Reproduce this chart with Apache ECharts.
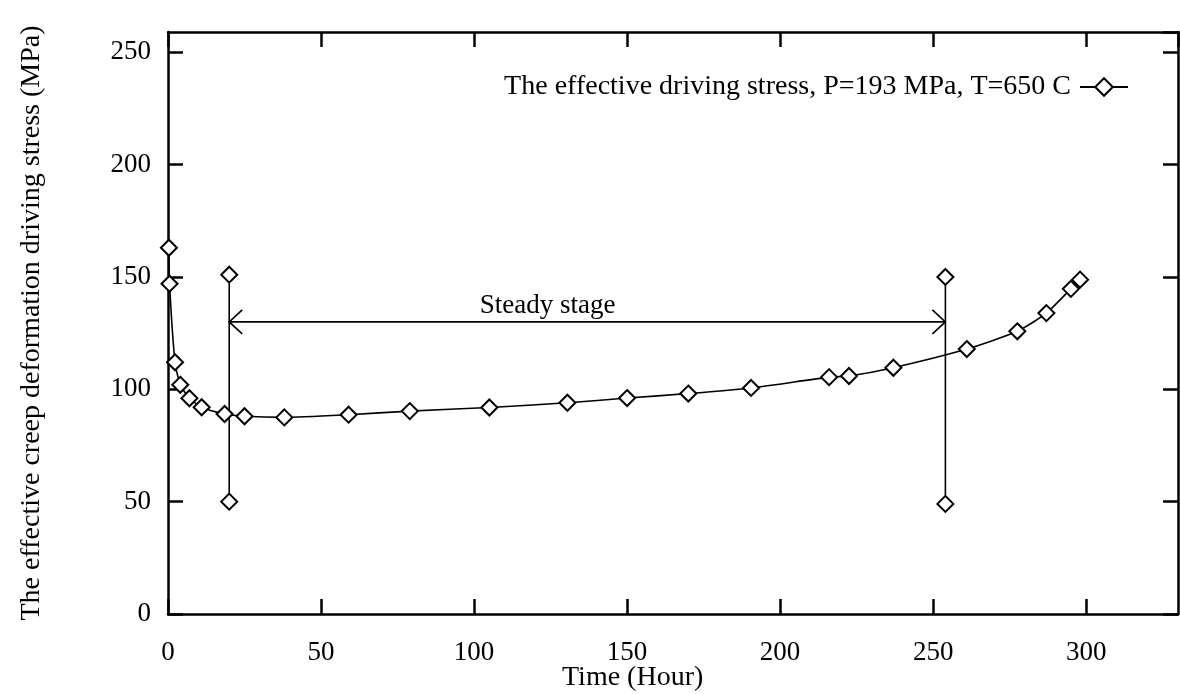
<!DOCTYPE html>
<html>
<head>
<meta charset="utf-8">
<script src="https://cdn.jsdelivr.net/npm/echarts@6/dist/echarts.min.js"></script>
<style>
html,body{margin:0;padding:0;background:#fff;}
#chart{width:1180px;height:694px;}
</style>
</head>
<body>
<div id="chart"></div>
<script>
// ---- data ----
var seriesName = 'The effective driving stress, P=193 MPa, T=650 C';
var timeHours = [0.3, 0.5, 2.3, 4, 7, 11, 18.5, 25, 38, 59, 79, 105, 130.5, 150, 170, 190.5, 216, 222.5, 237, 261, 277.5, 287, 295, 298];
var stressMPa = [163, 147, 112, 102, 96, 92, 89, 88, 87.5, 88.7, 90.3, 91.9, 94, 96.1, 98.1, 100.6, 105.4, 105.9, 109.6, 117.9, 125.8, 133.9, 144.7, 148.8];
var markerLeftX = [20, 20];
var markerLeftY = [151, 50];
var markerRightX = [254, 254];
var markerRightY = [150, 49];
var arrowSpan = [20, 254, 130];      // from x, to x, at y
var stageLabel = 'Steady stage';
var stageLabelX = 124;
var xTicks = { min: 0, max: 330, interval: 50 };
var yTicks = { min: 0, max: 259, interval: 50 };
var xAxisName = 'Time (Hour)';
var yAxisName = 'The effective creep deformation driving stress (MPa)';

var FONT = "'Liberation Serif', 'Times New Roman', serif";

function pairs(xs, ys) { return xs.map(function (x, i) { return [x, ys[i]]; }); }

var chart = echarts.init(document.getElementById('chart'), null, { renderer: 'canvas' });

function axisBase() {
  return {
    type: 'value',
    axisLine: { show: true, onZero: false, lineStyle: { color: '#000', width: 2.5 } },
    axisTick: { show: true, inside: true, length: 15, lineStyle: { color: '#000', width: 2.5 } },
    splitLine: { show: false },
    axisLabel: { show: false }
  };
}

var option = {
  backgroundColor: '#fff',
  animation: false,
  textStyle: { fontFamily: FONT, color: '#000' },
  grid: { left: 168, right: 2, top: 32, bottom: 80, containLabel: false },
  legend: {
    data: [seriesName],
    right: 46,
    top: 68,
    align: 'right',
    itemWidth: 48,
    itemHeight: 22,
    textStyle: { fontFamily: FONT, fontSize: 28, color: '#000', padding: [0, 4, 0, 0] }
  },
  xAxis: [
    Object.assign(axisBase(), {
      position: 'bottom',
      min: xTicks.min, max: xTicks.max, interval: xTicks.interval,
      axisLabel: { show: true, showMaxLabel: false, fontFamily: FONT, fontSize: 27, color: '#000', margin: 25 }
    }),
    Object.assign(axisBase(), {
      position: 'top',
      min: xTicks.min, max: xTicks.max, interval: xTicks.interval
    })
  ],
  yAxis: [
    Object.assign(axisBase(), {
      position: 'left',
      min: yTicks.min, max: yTicks.max, interval: yTicks.interval,
      name: yAxisName,
      nameLocation: 'middle',
      nameGap: 122,
      nameTextStyle: { fontFamily: FONT, fontSize: 28, color: '#000' },
      axisLabel: { show: true, showMaxLabel: false, fontFamily: FONT, fontSize: 27, color: '#000', margin: 17 }
    }),
    Object.assign(axisBase(), {
      position: 'right',
      min: yTicks.min, max: yTicks.max, interval: yTicks.interval
    })
  ],
  graphic: [{
    type: 'text',
    left: 562,
    top: 664,
    style: { text: xAxisName, font: '28px ' + FONT, fill: '#000' }
  }],
  series: [
    {
      name: seriesName,
      type: 'line',
      data: pairs(timeHours, stressMPa),
      smooth: 0.2,
      symbol: 'emptyDiamond',
      symbolSize: 16,
      showAllSymbol: true,
      lineStyle: { color: '#000', width: 1.6 },
      itemStyle: { color: '#000', borderColor: '#000', borderWidth: 2 },
      z: 3
    },
    {
      name: 'leftMarker',
      type: 'line',
      data: pairs(markerLeftX, markerLeftY),
      symbol: 'emptyDiamond',
      symbolSize: 16,
      lineStyle: { color: '#000', width: 1.6 },
      itemStyle: { color: '#000', borderColor: '#000', borderWidth: 2 },
      z: 3
    },
    {
      name: 'rightMarker',
      type: 'line',
      data: pairs(markerRightX, markerRightY),
      symbol: 'emptyDiamond',
      symbolSize: 16,
      lineStyle: { color: '#000', width: 1.6 },
      itemStyle: { color: '#000', borderColor: '#000', borderWidth: 2 },
      z: 3
    },
    {
      name: 'steadyArrow',
      type: 'custom',
      data: [arrowSpan],
      encode: { x: [0, 1], y: 2 },
      clip: false,
      renderItem: function (params, api) {
        var y = api.value(2);
        var a = api.coord([api.value(0), y]);
        var b = api.coord([api.value(1), y]);
        var t = api.coord([stageLabelX, y]);
        var ls = { stroke: '#000', lineWidth: 1.6, fill: null };
        var hw = 13, hh = 12;
        return {
          type: 'group',
          children: [
            { type: 'line', shape: { x1: a[0], y1: a[1], x2: b[0], y2: b[1] }, style: ls },
            { type: 'polyline', shape: { points: [[a[0] + hw, a[1] - hh], [a[0], a[1]], [a[0] + hw, a[1] + hh]] }, style: ls },
            { type: 'polyline', shape: { points: [[b[0] - hw, b[1] - hh], [b[0], b[1]], [b[0] - hw, b[1] + hh]] }, style: ls },
            { type: 'text', x: t[0], y: t[1] - 2, style: { text: stageLabel, font: '27px ' + FONT, fill: '#000', align: 'center', verticalAlign: 'bottom' } }
          ]
        };
      },
      z: 4
    }
  ]
};

chart.setOption(option);
</script>
</body>
</html>
